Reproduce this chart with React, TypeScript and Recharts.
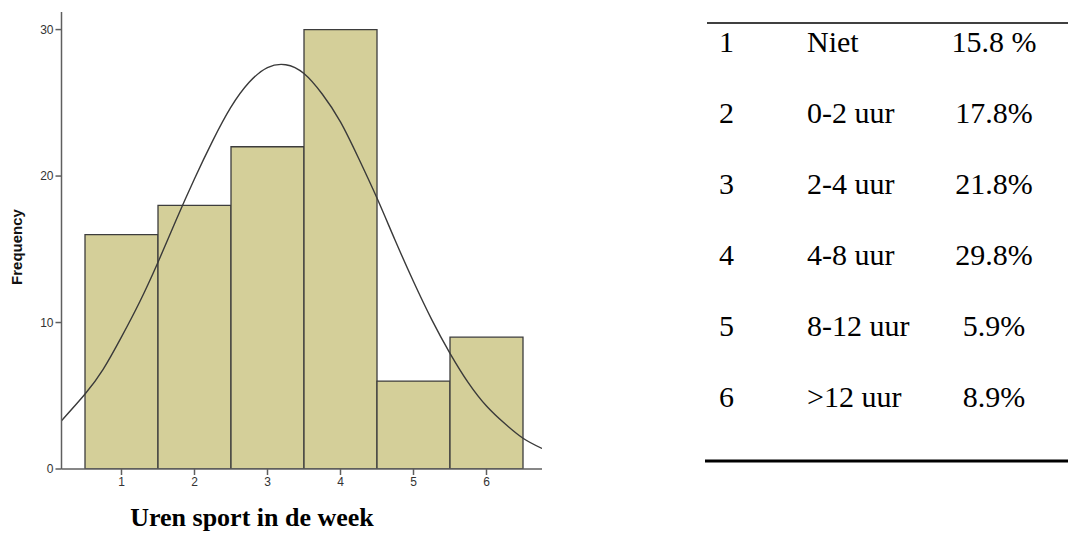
import { ComposedChart, Bar, Line, XAxis, YAxis } from 'recharts';

// histogram: hours of sport per week (category code 1..6)
const hourCodes = ['1', '2', '3', '4', '5', '6'];
const frequency = [16, 18, 22, 30, 6, 9];
const yTicks = [0, 10, 20, 30];

// normal curve overlay
const curveX = [0.18, 0.5, 0.75, 1, 1.25, 1.5, 1.75, 2, 2.25, 2.5, 2.75, 3, 3.25, 3.5, 3.75, 4, 4.25, 4.5, 4.75, 5, 5.25, 5.5, 5.75, 6, 6.25, 6.5, 6.76];
const curveY = [3.3, 5.1, 6.8, 9.0, 11.4, 14.1, 17.0, 19.8, 22.4, 24.7, 26.4, 27.4, 27.6, 27.0, 25.6, 23.7, 21.2, 18.5, 15.6, 12.8, 10.2, 7.9, 5.9, 4.3, 3.1, 2.1, 1.4];

// legend table on the right
const tableCodes = ['1', '2', '3', '4', '5', '6'];
const tableLabels = ['Niet', '0-2 uur', '2-4 uur', '4-8 uur', '8-12 uur', '>12 uur'];
const tablePercents = ['15.8 %', '17.8%', '21.8%', '29.8%', '5.9%', '8.9%'];

const AXIS = '#5f5f5f';
const SANS = '"Liberation Sans", Arial, sans-serif';
const SERIF = '"Liberation Serif", "Times New Roman", Times, serif';
const TICK_FONT = { fontSize: 12, fill: '#333', fontFamily: SANS };

const barData = hourCodes.map((code, i) => ({ code, freq: frequency[i] }));
const curveData = curveX.map((x, i) => ({ x, y: curveY[i] }));

export default function App() {
  return (
    <div style={{ position: 'absolute', left: 0, top: 0, width: 1077, height: 534, background: '#fff' }}>
      <div style={{ position: 'absolute', left: 0, top: 0 }}>
        <ComposedChart
          width={560}
          height={534}
          data={barData}
          margin={{ top: 12, right: 18, bottom: 35, left: 11.5 }}
          barCategoryGap={0}
          barGap={0}
        >
          <XAxis
            xAxisId="bars"
            dataKey="code"
            type="category"
            padding={{ left: 23.5, right: 19 }}
            height={30}
            tickSize={6}
            stroke={AXIS}
            strokeWidth={1.5}
            tick={TICK_FONT}
            tickLine={{ stroke: AXIS, strokeWidth: 1.5 }}
            label={{
              content: () => (
                <text x={252} y={526} textAnchor="middle" style={{ fontFamily: SERIF, fontWeight: 'bold', fontSize: 26 }} fill="#000">
                  Uren sport in de week
                </text>
              ),
            }}
          />
          <XAxis xAxisId="curve" dataKey="x" type="number" domain={[0.18, 6.76]} allowDataOverflow hide />
          <YAxis
            domain={[0, 31.2]}
            ticks={yTicks}
            allowDataOverflow
            width={50}
            tickSize={6}
            stroke={AXIS}
            strokeWidth={1.5}
            tick={TICK_FONT}
            tickLine={{ stroke: AXIS, strokeWidth: 1.5 }}
            label={{
              content: () => (
                <text x={22} y={247} transform="rotate(-90 22 247)" textAnchor="middle" style={{ fontFamily: SANS, fontWeight: 'bold', fontSize: 15 }} fill="#111">
                  Frequency
                </text>
              ),
            }}
          />
          <Bar xAxisId="bars" dataKey="freq" fill="#d4cf99" stroke="#3d3d3d" strokeWidth={1.3} isAnimationActive={false} />
          <Line
            xAxisId="curve"
            data={curveData}
            dataKey="y"
            type="natural"
            stroke="#3a3a3a"
            strokeWidth={1.4}
            dot={false}
            isAnimationActive={false}
          />
        </ComposedChart>
      </div>
      <svg width={1077} height={534} style={{ position: 'absolute', left: 0, top: 0, pointerEvents: 'none' }}>
        <line x1={707} x2={1068} y1={23} y2={23} stroke="#000" strokeWidth={1.3} />
        {tableCodes.map((code, i) => {
          const y = 52 + i * 71;
          const font = { fontFamily: SERIF, fontSize: 30 };
          return (
            <g key={code} fill="#000">
              <text x={719} y={y} style={font}>{code}</text>
              <text x={807} y={y} style={font}>{tableLabels[i]}</text>
              <text x={994} y={y} textAnchor="middle" style={font}>{tablePercents[i]}</text>
            </g>
          );
        })}
        <line x1={705} x2={1068} y1={461} y2={461} stroke="#000" strokeWidth={3} />
      </svg>
    </div>
  );
}
